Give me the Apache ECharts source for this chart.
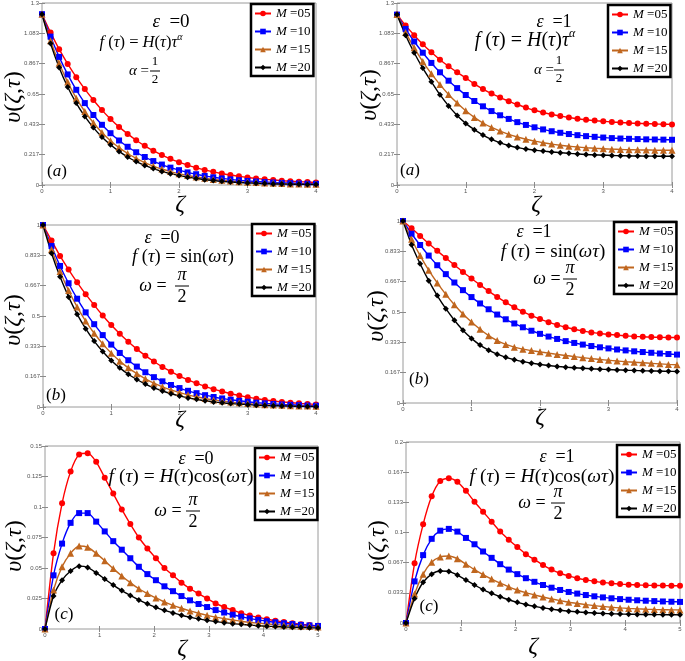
<!DOCTYPE html>
<html><head><meta charset="utf-8">
<script src="https://cdn.jsdelivr.net/npm/echarts@6/dist/echarts.min.js"></script>
<style>html,body{margin:0;padding:0;background:#fff}#c{width:685px;height:661px}</style>
</head><body><div id="c"></div>
<script>
// x grids (marker positions)
const xA = [0,0.125,0.25,0.375,0.5,0.625,0.75,0.875,1,1.125,1.25,1.375,1.5,1.625,1.75,1.875,2,2.125,2.25,2.375,2.5,2.625,2.75,2.875,3,3.125,3.25,3.375,3.5,3.625,3.75,3.875,4];
const xC = [0,0.15625,0.3125,0.46875,0.625,0.78125,0.9375,1.09375,1.25,1.40625,1.5625,1.71875,1.875,2.03125,2.1875,2.34375,2.5,2.65625,2.8125,2.96875,3.125,3.28125,3.4375,3.59375,3.75,3.90625,4.0625,4.21875,4.375,4.53125,4.6875,4.84375,5];

// tick labels
const yTicksA = ['0','0.217','0.433','0.65','0.867','1.083','1.3'];
const yTicksB = ['0','0.167','0.333','0.5','0.667','0.833','1'];
const yTicksC0 = ['0','0.025','0.05','0.075','0.1','0.125','0.15'];
const yTicksC1 = ['0','0.033','0.067','0.1','0.133','0.167','0.2'];
const xTicks4 = ['0','1','2','3','4'];
const xTicks5 = ['0','1','2','3','4','5'];
const mLabels = ['05','10','15','20'];

// (a) eps=0, f = H tau^alpha
const a0_M05 = [1.22,1.09,0.97,0.865,0.77,0.685,0.607,0.535,0.472,0.415,0.365,0.32,0.28,0.245,0.214,0.187,0.163,0.142,0.124,0.108,0.094,0.082,0.071,0.062,0.054,0.047,0.041,0.036,0.031,0.027,0.024,0.021,0.018];
const a0_M10 = [1.22,1.06,0.915,0.79,0.68,0.585,0.5,0.43,0.37,0.318,0.273,0.234,0.2,0.171,0.146,0.124,0.106,0.09,0.077,0.065,0.055,0.047,0.04,0.034,0.029,0.025,0.021,0.018,0.015,0.013,0.011,0.009,0.008];
const a0_M15 = [1.22,1.03,0.87,0.735,0.62,0.525,0.445,0.375,0.316,0.267,0.225,0.19,0.16,0.135,0.114,0.096,0.081,0.068,0.057,0.048,0.04,0.034,0.028,0.024,0.02,0.017,0.014,0.012,0.01,0.008,0.007,0.006,0.005];
const a0_M20 = [1.22,1.01,0.84,0.7,0.585,0.49,0.41,0.343,0.287,0.24,0.2,0.167,0.14,0.117,0.097,0.081,0.067,0.056,0.046,0.038,0.032,0.026,0.022,0.018,0.015,0.012,0.01,0.008,0.007,0.006,0.005,0.004,0.003];
// (a) eps=1
const a1_M05 = [1.217,1.14,1.07,1.005,0.948,0.895,0.848,0.805,0.765,0.722,0.685,0.653,0.625,0.598,0.575,0.553,0.534,0.518,0.504,0.492,0.482,0.473,0.466,0.46,0.455,0.45,0.446,0.443,0.44,0.438,0.436,0.434,0.433];
const a1_M10 = [1.217,1.115,1.025,0.945,0.872,0.805,0.745,0.692,0.643,0.6,0.562,0.528,0.498,0.472,0.449,0.429,0.412,0.397,0.384,0.373,0.364,0.356,0.349,0.344,0.339,0.335,0.332,0.33,0.328,0.326,0.325,0.324,0.323];
const a1_M15 = [1.217,1.09,0.98,0.882,0.795,0.717,0.647,0.585,0.53,0.483,0.443,0.411,0.385,0.362,0.343,0.327,0.313,0.302,0.292,0.284,0.277,0.271,0.266,0.262,0.259,0.256,0.254,0.252,0.251,0.25,0.249,0.248,0.248];
const a1_M20 = [1.217,1.07,0.945,0.835,0.738,0.645,0.565,0.497,0.44,0.395,0.357,0.326,0.301,0.282,0.267,0.257,0.249,0.242,0.236,0.231,0.226,0.222,0.218,0.215,0.213,0.211,0.209,0.208,0.207,0.206,0.206,0.205,0.205];
// (b) eps=0, f = sin(omega tau)
const b0_M05 = [1,0.915,0.83,0.755,0.685,0.62,0.56,0.503,0.45,0.402,0.358,0.318,0.282,0.25,0.22,0.194,0.17,0.149,0.13,0.113,0.098,0.085,0.073,0.063,0.054,0.046,0.039,0.033,0.028,0.024,0.02,0.017,0.014];
const b0_M10 = [1,0.885,0.775,0.68,0.595,0.52,0.455,0.395,0.343,0.297,0.257,0.222,0.191,0.164,0.141,0.121,0.104,0.089,0.076,0.065,0.055,0.047,0.04,0.034,0.029,0.024,0.02,0.017,0.014,0.012,0.01,0.008,0.007];
const b0_M15 = [1,0.865,0.745,0.64,0.55,0.472,0.405,0.347,0.296,0.252,0.215,0.183,0.155,0.131,0.111,0.094,0.079,0.067,0.056,0.047,0.039,0.033,0.027,0.023,0.019,0.016,0.013,0.011,0.009,0.007,0.006,0.005,0.004];
const b0_M20 = [1,0.845,0.715,0.605,0.51,0.43,0.362,0.305,0.256,0.215,0.18,0.151,0.126,0.105,0.088,0.073,0.061,0.05,0.042,0.034,0.028,0.023,0.019,0.016,0.013,0.01,0.008,0.007,0.006,0.005,0.004,0.003,0.002];
// (b) eps=1
const b1_M05 = [1,0.96,0.918,0.876,0.836,0.797,0.758,0.72,0.684,0.649,0.615,0.583,0.553,0.526,0.502,0.48,0.461,0.444,0.429,0.416,0.405,0.396,0.388,0.382,0.377,0.373,0.369,0.366,0.364,0.362,0.361,0.36,0.36];
const b1_M10 = [1,0.93,0.868,0.81,0.757,0.708,0.662,0.62,0.582,0.547,0.515,0.486,0.46,0.437,0.416,0.397,0.38,0.365,0.352,0.34,0.33,0.321,0.313,0.306,0.3,0.294,0.289,0.284,0.28,0.276,0.272,0.269,0.266];
const b1_M15 = [1,0.9,0.81,0.73,0.66,0.597,0.54,0.489,0.445,0.405,0.37,0.343,0.322,0.307,0.296,0.288,0.281,0.274,0.267,0.261,0.255,0.249,0.244,0.239,0.235,0.231,0.227,0.224,0.221,0.218,0.215,0.212,0.21];
const b1_M20 = [1,0.87,0.765,0.672,0.59,0.518,0.455,0.4,0.355,0.318,0.29,0.268,0.251,0.238,0.227,0.219,0.212,0.206,0.201,0.197,0.194,0.191,0.188,0.186,0.184,0.182,0.18,0.179,0.177,0.176,0.175,0.174,0.173];
// (c) eps=0, f = H cos(omega tau)
const c0_M05 = [0,0.062,0.103,0.129,0.143,0.144,0.137,0.124,0.111,0.098,0.086,0.075,0.066,0.058,0.05,0.044,0.038,0.033,0.029,0.025,0.021,0.018,0.0155,0.013,0.011,0.0095,0.008,0.0068,0.0057,0.0047,0.0039,0.0032,0.0026];
const c0_M10 = [0,0.044,0.07,0.087,0.095,0.095,0.088,0.08,0.072,0.065,0.058,0.051,0.045,0.04,0.035,0.031,0.027,0.0235,0.0205,0.018,0.0155,0.0135,0.0117,0.0101,0.0087,0.0075,0.0064,0.0055,0.0047,0.004,0.0034,0.0029,0.0025];
const c0_M15 = [0,0.032,0.051,0.062,0.068,0.067,0.062,0.056,0.0495,0.0435,0.038,0.033,0.029,0.0255,0.0222,0.0194,0.017,0.0148,0.0129,0.0112,0.0097,0.0085,0.0074,0.0064,0.0055,0.0048,0.0042,0.0036,0.0031,0.0027,0.0023,0.002,0.0017];
const c0_M20 = [0,0.027,0.04,0.0475,0.0515,0.0505,0.046,0.041,0.036,0.0315,0.0275,0.0238,0.0206,0.0178,0.0153,0.0132,0.0113,0.0097,0.0083,0.0071,0.0061,0.0052,0.0044,0.0038,0.0032,0.0027,0.0023,0.002,0.0017,0.0014,0.0012,0.001,0.0009];
// (c) eps=1
const c1_M05 = [0,0.066,0.109,0.14,0.157,0.16,0.156,0.146,0.134,0.123,0.112,0.101,0.092,0.084,0.076,0.07,0.064,0.059,0.055,0.052,0.0495,0.0476,0.046,0.0448,0.0438,0.043,0.0424,0.042,0.0417,0.0415,0.0413,0.0412,0.0411];
const c1_M10 = [0,0.046,0.075,0.093,0.102,0.104,0.101,0.094,0.087,0.079,0.072,0.065,0.059,0.054,0.0495,0.0455,0.042,0.039,0.0365,0.0343,0.0325,0.0309,0.0295,0.0283,0.0273,0.0264,0.0257,0.0251,0.0246,0.0242,0.0238,0.0235,0.0233];
const c1_M15 = [0,0.032,0.054,0.067,0.073,0.074,0.071,0.065,0.059,0.0535,0.0485,0.044,0.04,0.0365,0.0335,0.031,0.0287,0.0266,0.0247,0.023,0.0216,0.0203,0.0192,0.0182,0.0174,0.0167,0.0161,0.0156,0.0152,0.0149,0.0147,0.0145,0.0144];
const c1_M20 = [0,0.027,0.045,0.054,0.0575,0.057,0.053,0.0475,0.042,0.037,0.0328,0.029,0.0257,0.0228,0.0204,0.0184,0.0167,0.0153,0.0141,0.0131,0.0123,0.0116,0.011,0.0106,0.0102,0.0099,0.0097,0.0095,0.0094,0.0093,0.0092,0.0091,0.009];

const SERIF = "'Liberation Serif','DejaVu Serif',serif";
const colors = ['#ff0000','#0000ff','#c0661e','#000000'];
const symbols = ['circle','rect','triangle','diamond'];
const symSizes = [6,6,7,6];

const panels = [
  {g:[42,3,274,182], xs:xA, xMax:4, xT:xTicks4, yMax:1.3, yT:yTicksA, d:[a0_M05,a0_M10,a0_M15,a0_M20], lg:[251,4]},
  {g:[397,3,275,182], xs:xA, xMax:4, xT:xTicks4, yMax:1.3, yT:yTicksA, d:[a1_M05,a1_M10,a1_M15,a1_M20], lg:[608,5]},
  {g:[43,225,273,182], xs:xA, xMax:4, xT:xTicks4, yMax:1, yT:yTicksB, d:[b0_M05,b0_M10,b0_M15,b0_M20], lg:[252,224]},
  {g:[403,221,274,182], xs:xA, xMax:4, xT:xTicks4, yMax:1, yT:yTicksB, d:[b1_M05,b1_M10,b1_M15,b1_M20], lg:[614,222]},
  {g:[45,446,273,183], xs:xC, xMax:5, xT:xTicks5, yMax:0.15, yT:yTicksC0, d:[c0_M05,c0_M10,c0_M15,c0_M20], lg:[255,448]},
  {g:[406,442,274,181], xs:xC, xMax:5, xT:xTicks5, yMax:0.2, yT:yTicksC1, d:[c1_M05,c1_M10,c1_M15,c1_M20], lg:[617,445]}
];

const grids=[], xAxes=[], yAxes=[], series=[], legends=[];
const tickStyle = {show:true, inside:true, length:3, lineStyle:{color:'#8a8a8a', width:1}};
panels.forEach((p,k)=>{
  grids.push({left:p.g[0], top:p.g[1], width:p.g[2], height:p.g[3], show:true, borderColor:'#9a9a9a', borderWidth:1, backgroundColor:'transparent'});
  const iv = p.yMax/6;
  xAxes.push({type:'value', gridIndex:k, min:0, max:p.xMax, interval:1, position:'bottom', splitLine:{show:false},
    axisLine:{show:false}, axisTick:tickStyle,
    axisLabel:{fontSize:6, color:'#555', margin:3, fontFamily:'Liberation Sans', formatter:v=>p.xT[Math.round(v)]}});
  xAxes.push({type:'value', gridIndex:k, min:0, max:p.xMax, interval:1, position:'top', splitLine:{show:false},
    axisLine:{show:false}, axisTick:tickStyle, axisLabel:{show:false}});
  yAxes.push({type:'value', gridIndex:k, min:0, max:p.yMax, interval:iv, position:'left', splitLine:{show:false},
    axisLine:{show:false}, axisTick:tickStyle,
    axisLabel:{fontSize:6, color:'#555', margin:3, fontFamily:'Liberation Sans', formatter:v=>p.yT[Math.round(v/iv)]}});
  yAxes.push({type:'value', gridIndex:k, min:0, max:p.yMax, interval:iv, position:'right', splitLine:{show:false},
    axisLine:{show:false}, axisTick:tickStyle, axisLabel:{show:false}});
  p.d.forEach((ys,j)=>{
    series.push({type:'line', name:'M ='+mLabels[j], xAxisIndex:2*k, yAxisIndex:2*k,
      data:p.xs.map((x,i)=>[x,ys[i]]), symbol:symbols[j], symbolSize:symSizes[j], showAllSymbol:true,
      itemStyle:{color:colors[j]}, lineStyle:{color:colors[j], width:1.4}, smooth:0.25, z:3, animation:false});
  });
  legends.push({show:true, orient:'vertical', left:p.lg[0], top:p.lg[1], data:mLabels.map(m=>'M ='+m),
    itemWidth:16, itemHeight:7, itemGap:5, padding:[3,3,2,3], backgroundColor:'#fff', borderColor:'#000', borderWidth:2.5,
    selectedMode:false, z:10,
    textStyle:{fontFamily:SERIF, fontSize:13, color:'#000', rich:{i:{fontFamily:SERIF, fontSize:13, fontStyle:'italic', color:'#000'}}},
    formatter:n=>'{i|M} ='+n.split('=')[1]});
});

function rich(s){
  return {i:{fontFamily:SERIF, fontStyle:'italic', fontSize:s, fill:'#000'},
          sup:{fontFamily:SERIF, fontStyle:'italic', fontSize:Math.round(s*0.62), fill:'#000', padding:[0,0,Math.round(s*0.75),0]}};
}
function T(x,y,text,s,extra){
  return Object.assign({type:'text', x:x, y:y, z:20,
    style:{text:text, fontFamily:SERIF, fontSize:s, fill:'#000', align:'center', verticalAlign:'middle', rich:rich(s)}}, extra||{});
}
function L(x1,x2,y){ return {type:'line', z:20, shape:{x1:x1,y1:y,x2:x2,y2:y}, style:{stroke:'#000', lineWidth:1}}; }

const YL = '{i|υ}({i|ζ},{i|τ})';
const fA = '{i|f} ({i|τ}) = {i|H}({i|τ}){i|τ}{sup|α}';
const fB = '{i|f} ({i|τ}) = sin({i|ω}{i|τ})';
const fC = '{i|f} ({i|τ}) = {i|H}({i|τ})cos({i|ω}{i|τ})';

const graphics = [
  // y-axis titles
  T(14,97,YL,24,{rotation:Math.PI/2}), T(370,95,YL,24,{rotation:Math.PI/2}),
  T(14,320,YL,24,{rotation:Math.PI/2}), T(377,316,YL,24,{rotation:Math.PI/2}),
  T(15,546,YL,24,{rotation:Math.PI/2}), T(378,546,YL,24,{rotation:Math.PI/2}),
  // x-axis titles
  T(180,205,'{i|ζ}',24), T(536,205,'{i|ζ}',24), T(180,420,'{i|ζ}',24),
  T(540,418,'{i|ζ}',24), T(182,649,'{i|ζ}',24), T(533,647,'{i|ζ}',24),
  // panel tags
  T(57,172,'({i|a})',17), T(410,171,'({i|a})',17), T(56,396,'({i|b})',17),
  T(419,380,'({i|b})',17), T(64,615,'({i|c})',17), T(429,607,'({i|c})',17),
  // panel 1
  T(171,22,'{i|ε}  =0',19), T(141,43,fA,16.5), T(139,71,'{i|α} =',15), T(155,62,'1',13), L(150,160,71), T(155,80,'2',13),
  // panel 2
  T(554,22,'{i|ε}  =1',18), T(525,41,fA,20), T(544,70,'{i|α} =',15), T(559,61,'1',13), L(554,564,70), T(559,79,'2',13),
  // panel 3
  T(162,238,'{i|ε}  =0',18), T(183,257,fB,18.5), T(153,286,'{i|ω} =',18), T(182,275,'{i|π}',18), L(175,189,286), T(182,297,'2',18),
  // panel 4
  T(534,232,'{i|ε}  =1',18), T(553,252,fB,19), T(547,279,'{i|ω} =',18), T(570,268,'{i|π}',18), L(563,577,279), T(570,290,'2',18),
  // panel 5
  T(196,459,'{i|ε}  =0',18), T(181,477,fC,19.5), T(168,511,'{i|ω} =',18), T(193,500,'{i|π}',18), L(186,200,511), T(193,522,'2',18),
  // panel 6
  T(557,457,'{i|ε}  =1',18), T(542,477,fC,19.5), T(532,503,'{i|ω} =',18), T(558,492,'{i|π}',18), L(551,565,503), T(558,514,'2',18)
];

const chart = echarts.init(document.getElementById('c'), null, {renderer:'canvas'});
chart.setOption({
  backgroundColor:'#fff', animation:false,
  grid:grids, xAxis:xAxes, yAxis:yAxes, series:series, legend:legends,
  graphic:{elements:graphics}
});
</script></body></html>
